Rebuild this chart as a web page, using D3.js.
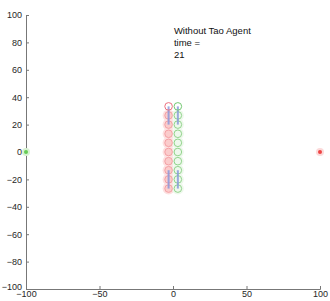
<!DOCTYPE html>
<html><head><meta charset="utf-8">
<script src="https://cdn.jsdelivr.net/npm/d3@7"></script>
<style>body{margin:0;background:#fff}svg{display:block}text{font-family:"Liberation Sans",Arial,sans-serif}</style>
</head><body>
<script>
const xTicks = [-100, -50, 0, 50, 100];
const yTicks = [-100, -80, -60, -40, -20, 0, 20, 40, 60, 80, 100];
const rowY = [33.3, 26.7, 20, 13.3, 6.7, 0, -6.7, -13.3, -20, -26.7];
const redX = -3;
const greenX = 3.3;
const linkSegments = [[33.3, 20], [-13.3, -26.7]];
const sources = [{x: -100, y: 0, c: "green"}, {x: 100, y: 0, c: "red"}];
const titleLines = ["Without Tao Agent", "time =", "21"];

const W = 330, H = 301;
const svg = d3.select("body").append("svg").attr("width", W).attr("height", H);
const x = d3.scaleLinear().domain([-100, 100]).range([26, 320]);
const y = d3.scaleLinear().domain([-100, 100]).range([289, 15]);

// axes
const ax = svg.append("g").attr("transform", `translate(0,${y(-100)})`)
  .call(d3.axisBottom(x).tickValues(xTicks).tickSize(-3).tickPadding(2));
const ay = svg.append("g").attr("transform", `translate(${x(-100)},0)`)
  .call(d3.axisLeft(y).tickValues(yTicks).tickSize(-3).tickPadding(4));
[ax, ay].forEach(g => {
  g.select(".domain").attr("stroke", "#777");
  g.selectAll(".tick line").attr("stroke", "#777");
  g.selectAll(".tick text").attr("fill", "#262626").style("font-size", "9px");
});
ay.selectAll(".tick text").filter(d => d === -100).attr("dy", "0.1em");

// faded trail halos
const cols = [{x: redX, halo: "#fde0e0", fill: "#fbcccc", stroke: "#f4a0a4"},
              {x: greenX, halo: "#eef8ec", fill: "#eef8ec", stroke: "#92d48c"}];
cols.forEach(c => {
  svg.append("g").selectAll("circle").data(rowY.slice(1)).join("circle")
    .attr("cx", x(c.x)).attr("cy", d => y(d)).attr("r", 6).attr("fill", c.halo);
});
cols.forEach(c => {
  svg.append("g").selectAll("circle").data(rowY.slice(1)).join("circle")
    .attr("cx", x(c.x)).attr("cy", d => y(d)).attr("r", 3.8)
    .attr("fill", c.fill).attr("stroke", c.stroke).attr("stroke-width", 1);
});
// blue links
cols.forEach(c => {
  svg.append("g").selectAll("line").data(linkSegments).join("line")
    .attr("x1", x(c.x)).attr("x2", x(c.x))
    .attr("y1", d => y(d[0])).attr("y2", d => y(d[1]))
    .attr("stroke", "#8596dc").attr("stroke-width", 2).attr("opacity", 0.8);
});
// leading markers
svg.append("circle").attr("cx", x(redX)).attr("cy", y(rowY[0])).attr("r", 3.8)
  .attr("fill", "none").attr("stroke", "#ec7080").attr("stroke-width", 1);
svg.append("circle").attr("cx", x(greenX)).attr("cy", y(rowY[0])).attr("r", 3.8)
  .attr("fill", "none").attr("stroke", "#74c872").attr("stroke-width", 1);

// sources
sources.forEach(s => {
  const col = s.c === "red" ? ["#fcdada", "#ee4444"] : ["#d8f2d2", "#66cc55"];
  svg.append("circle").attr("cx", x(s.x)).attr("cy", y(s.y)).attr("r", 4).attr("fill", col[0]);
  svg.append("circle").attr("cx", x(s.x)).attr("cy", y(s.y)).attr("r", 2).attr("fill", col[1]);
});

// title text
svg.append("g").selectAll("text").data(titleLines).join("text")
  .attr("x", x(0.6)).attr("y", (d, i) => 34 + i * 12)
  .attr("fill", "#111").style("font-size", "9.5px").text(d => d);
</script>
</body></html>
